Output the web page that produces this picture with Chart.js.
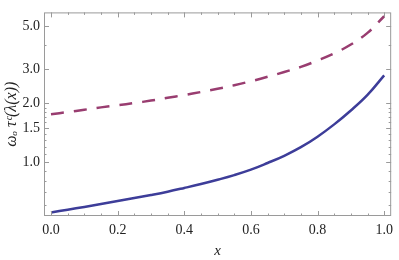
<!DOCTYPE html>
<html>
<head>
<meta charset="utf-8">
<script src="https://cdn.jsdelivr.net/npm/chart.js@4/dist/chart.umd.min.js"></script>
<style>
  html, body { margin: 0; padding: 0; background: #fff; }
  #wrap { width: 399px; height: 260px; }
</style>
</head>
<body>
<div id="wrap"><canvas id="chart" width="399" height="260"></canvas></div>
<script>
// values
const xs = [0, 0.05, 0.1, 0.15, 0.2, 0.25, 0.3, 0.35, 0.4, 0.45, 0.5,
            0.55, 0.6, 0.65, 0.7, 0.75, 0.8, 0.85, 0.9, 0.95, 1.0];
const solidVals = [0.553, 0.571, 0.590, 0.610, 0.632, 0.655, 0.679, 0.706, 0.738, 0.773, 0.813,
                   0.859, 0.916, 0.991, 1.079, 1.194, 1.352, 1.563, 1.841, 2.213, 2.786];
const dashedVals = [1.76, 1.807, 1.858, 1.91, 1.96, 2.01, 2.07, 2.14, 2.21, 2.29, 2.38,
                    2.48, 2.60, 2.74, 2.90, 3.08, 3.32, 3.61, 4.01, 4.60, 5.60];

const xMajor = [0, 0.2, 0.4, 0.6, 0.8, 1.0];
const xMinor = [0.05, 0.1, 0.15, 0.25, 0.3, 0.35, 0.45, 0.5, 0.55, 0.65, 0.7, 0.75, 0.85, 0.9, 0.95];
const yMajor = [1.0, 1.5, 2.0, 3.0, 5.0];
const yMinor = [0.6, 0.7, 0.8, 0.9, 1.1, 1.2, 1.3, 1.4, 1.6, 1.7, 1.8, 1.9, 4.0];

const frameColor = '#9a9a9a';
const serif = '"Liberation Serif", "Times New Roman", serif';

// frame with inward ticks on all four sides
const framePlugin = {
  id: 'frame',
  afterDatasetsDraw(chart) {
    const { ctx, chartArea: a, scales } = chart;
    ctx.save();
    ctx.strokeStyle = frameColor;
    ctx.lineWidth = 1;
    ctx.strokeRect(a.left + 0.5, a.top + 0.5, a.right - a.left - 1, a.bottom - a.top - 1);
    ctx.beginPath();
    const xt = (v, len) => {
      const p = Math.round(scales.x.getPixelForValue(v)) + 0.5;
      ctx.moveTo(p, a.bottom); ctx.lineTo(p, a.bottom - len);
      ctx.moveTo(p, a.top); ctx.lineTo(p, a.top + len);
    };
    const yt = (v, len) => {
      const p = Math.round(scales.y.getPixelForValue(v)) + 0.5;
      ctx.moveTo(a.left, p); ctx.lineTo(a.left + len, p);
      ctx.moveTo(a.right, p); ctx.lineTo(a.right - len, p);
    };
    xMajor.forEach(v => xt(v, 5));
    xMinor.forEach(v => xt(v, 2.5));
    yMajor.forEach(v => yt(v, 5));
    yMinor.forEach(v => yt(v, 2.5));
    ctx.stroke();
    ctx.restore();
  }
};

function draw() {
  new Chart(document.getElementById('chart'), {
    type: 'line',
    data: {
      datasets: [
        {
          data: xs.map((x, i) => ({ x: x, y: solidVals[i] })),
          borderColor: '#3d3d99',
          borderWidth: 2.5,
          pointRadius: 0,
          tension: 0.4,
          fill: false
        },
        {
          data: xs.map((x, i) => ({ x: x, y: dashedVals[i] })),
          borderColor: '#993d70',
          borderWidth: 2.5,
          borderDash: [13, 10],
          pointRadius: 0,
          tension: 0.4,
          fill: false
        }
      ]
    },
    options: {
      responsive: false,
      animation: false,
      layout: { padding: { top: 0, right: 4, left: 0, bottom: 0 } },
      plugins: {
        legend: { display: false },
        tooltip: { enabled: false }
      },
      scales: {
        x: {
          type: 'linear',
          min: -0.021,
          max: 1.021,
          afterBuildTicks: s => { s.ticks = xMajor.map(v => ({ value: v })); },
          afterFit: s => { s.height = 44; },
          grid: { display: false, drawTicks: false },
          border: { display: false },
          ticks: {
            padding: 6,
            color: '#222',
            font: { family: serif, size: 14 },
            callback: v => v.toFixed(1)
          },
          title: {
            display: true,
            text: 'x',
            color: '#222',
            padding: { top: 3, bottom: 0 },
            font: { family: serif, size: 15, style: 'italic' }
          }
        },
        y: {
          type: 'logarithmic',
          min: 0.53,
          max: 5.86,
          afterBuildTicks: s => { s.ticks = yMajor.map(v => ({ value: v })); },
          afterFit: s => { s.width = 44; },
          grid: { display: false, drawTicks: false },
          border: { display: false },
          ticks: {
            padding: 4,
            color: '#222',
            font: { family: serif, size: 14 },
            callback: v => Number(v).toFixed(1)
          },
          title: {
            display: true,
            text: 'ωₒ τᶜ(λ(x))',
            color: '#222',
            padding: { top: 2, bottom: 0 },
            font: { family: serif, size: 16, style: 'italic' }
          }
        }
      }
    },
    plugins: [framePlugin]
  });
}

Promise.all([
  document.fonts.load('14px "Liberation Serif"'),
  document.fonts.load('italic 14px "Liberation Serif"')
]).then(draw, draw);
</script>
</body>
</html>
